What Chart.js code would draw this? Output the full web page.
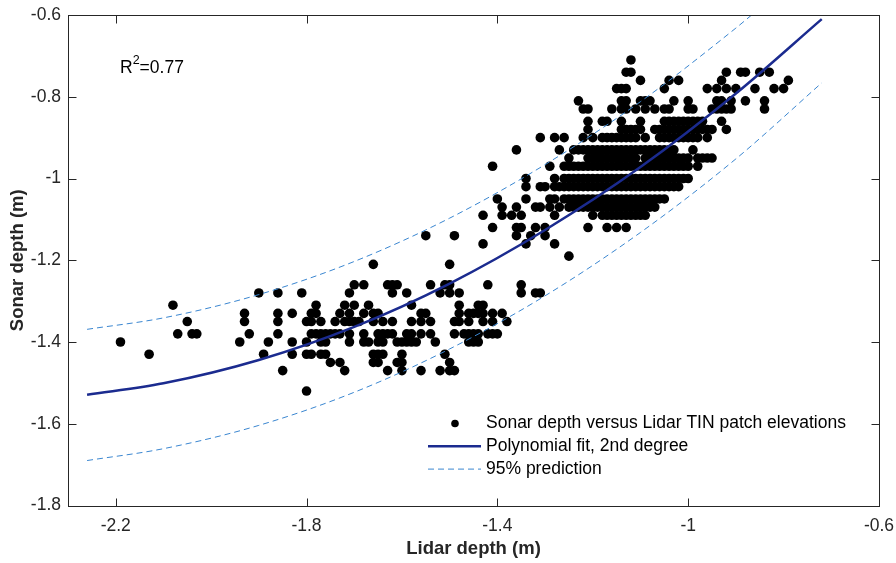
<!DOCTYPE html>
<html>
<head>
<meta charset="utf-8">
<script src="https://cdn.jsdelivr.net/npm/chart.js@4.4.0/dist/chart.umd.min.js"></script>
<style>
  html, body { margin: 0; padding: 0; background: #fff; }
</style>
</head>
<body>
<canvas id="chart" width="896" height="563"></canvas>
<script>
// axis ticks
const xTicks = [-2.2, -1.8, -1.4, -1, -0.6];
const yTicks = [-1.8, -1.6, -1.4, -1.2, -1, -0.8, -0.6];

// measured points, grouped by sonar depth (m); lidar depths per row in cm
const sonarRows = [
  -0.71, -0.74, -0.76, -0.78, -0.81, -0.83, -0.86, -0.88, -0.90, -0.93,
  -0.95, -0.97, -1.00, -1.02, -1.05, -1.07, -1.09, -1.12, -1.14, -1.16,
  -1.19, -1.21, -1.26, -1.28, -1.31, -1.33, -1.35, -1.38, -1.40, -1.43,
  -1.45, -1.47, -1.52
];
const lidarRows = [
  [-112],
  [-113, -112, -92, -89, -88, -85, -83],
  [-110, -104, -102, -93, -79],
  [-115, -114, -113, -105, -96, -94, -92, -90, -86, -82, -80],
  [-123, -114, -113, -110, -109, -108, -103, -100, -94, -93, -91, -88, -84],
  [-122, -121, -116, -114, -113, -111, -109, -107, -105, -104, -100, -99, -95, -94, -93, -92, -91, -84],
  [-121, -118, -117, -114, -110, -105, -104, -103, -102, -101, -100, -99, -98, -97, -93],
  [-121, -114, -113, -112, -111, -110, -107, -106, -105, -104, -103, -102, -101, -100, -99, -98, -97, -96, -95, -92],
  [-131, -128, -126, -122, -120, -118, -117, -116, -115, -114, -113, -112, -111, -109, -106, -105, -104, -103, -102, -101, -100, -99, -98, -96],
  [-136, -127, -124, -123, -122, -121, -120, -119, -118, -117, -116, -115, -114, -113, -112, -111, -110, -109, -108, -107, -106, -105, -104, -103, -99],
  [-125, -121, -120, -119, -118, -117, -116, -115, -114, -113, -112, -111, -109, -108, -107, -106, -105, -104, -103, -102, -101, -100, -98, -97, -96, -95],
  [-141, -129, -126, -125, -124, -123, -122, -121, -120, -119, -118, -117, -116, -115, -114, -113, -112, -111, -110, -109, -108, -107, -106, -105, -104, -103, -102, -101, -100, -98],
  [-134, -128, -126, -125, -124, -123, -122, -121, -120, -119, -118, -117, -116, -115, -114, -113, -112, -111, -110, -109, -108, -107, -106, -105, -104, -103, -102, -101, -100],
  [-134, -131, -130, -128, -127, -126, -125, -124, -123, -122, -121, -120, -119, -118, -117, -116, -115, -114, -113, -112, -111, -110, -109, -108, -107, -106, -105, -104, -103, -102],
  [-140, -134, -129, -128, -126, -125, -124, -123, -122, -121, -120, -119, -118, -117, -116, -115, -114, -113, -112, -111, -110, -109, -108, -107, -106, -105],
  [-139, -136, -132, -131, -129, -127, -125, -124, -123, -122, -121, -120, -119, -118, -117, -116, -115, -114, -113, -112, -111, -110, -109, -108, -107],
  [-143, -139, -137, -135, -128, -120, -118, -117, -116, -115, -114, -113, -112, -111, -110, -109],
  [-141, -136, -135, -132, -130, -121, -117, -115, -113],
  [-155, -149, -136, -133, -130],
  [-143, -134, -128],
  [-125],
  [-166, -150],
  [-170, -168, -163, -162, -161, -154, -151, -150, -142, -135],
  [-190, -186, -181, -171, -162, -159, -152, -150, -148, -135, -132, -131],
  [-208, -178, -172, -170, -167, -158, -148, -144, -143],
  [-193, -186, -183, -179, -178, -173, -171, -168, -166, -165, -156, -155, -148, -146, -145, -144, -143, -141, -139],
  [-205, -193, -186, -180, -179, -177, -174, -172, -171, -170, -169, -166, -164, -162, -158, -156, -154, -149, -148, -146, -143, -141, -138],
  [-207, -204, -203, -192, -186, -179, -178, -177, -176, -175, -174, -173, -171, -168, -165, -164, -163, -162, -159, -158, -156, -154, -149, -147, -146, -145, -144, -142, -141, -140],
  [-219, -194, -188, -183, -180, -177, -176, -171, -168, -167, -165, -164, -161, -160, -159, -158, -157, -153, -146, -145, -144],
  [-213, -189, -183, -180, -179, -177, -176, -166, -165, -164, -160, -151],
  [-175, -173, -166, -165, -161, -160, -150],
  [-185, -172, -163, -160, -156, -152, -150, -149],
  [-180]
];

// 2nd degree polynomial fit and 95% prediction bounds
const fitLidar = [-2.26, -2.1, -1.9, -1.7, -1.5, -1.3, -1.1, -0.9, -0.72];
const fitSonar = [-1.529, -1.501, -1.444, -1.363, -1.257, -1.126, -0.972, -0.792, -0.61];
const upperLidar = [-2.26, -2.1, -1.9, -1.7, -1.5, -1.3, -1.1, -0.9, -0.867];
const upperSonar = [-1.369, -1.341, -1.284, -1.203, -1.097, -0.966, -0.812, -0.632, -0.6];
const lowerLidar = [-2.26, -2.1, -1.9, -1.7, -1.5, -1.3, -1.1, -0.9, -0.72];
const lowerSonar = [-1.690, -1.661, -1.604, -1.523, -1.417, -1.287, -1.132, -0.952, -0.766];

const axisColor = '#262626';
const fitColor = '#1b2b8f';
const boundColor = '#3a86d0';
const fontFamily = '"Liberation Sans", Arial, Helvetica, sans-serif';

Chart.defaults.font.family = fontFamily;
Chart.defaults.color = axisColor;

const points = [];
sonarRows.forEach(function(s, i) {
  lidarRows[i].forEach(function(cm) {
    points.push({x: cm / 100, y: s});
  });
});

const pairs = (xs, ys) => xs.map((v, i) => ({x: v, y: ys[i]}));

// box, inward ticks, R^2 note and the legend
const frame = {
  id: 'frame',
  afterDraw(chart) {
    const {ctx, chartArea: a, scales: {x, y}} = chart;
    const L = Math.round(a.left) + 0.5, R = Math.round(a.right) + 0.5;
    const T = Math.round(a.top) + 0.5, B = Math.round(a.bottom) + 0.5;
    ctx.save();
    ctx.strokeStyle = axisColor;
    ctx.lineWidth = 1;
    ctx.strokeRect(L, T, R - L, B - T);
    ctx.beginPath();
    xTicks.forEach(v => {
      const p = Math.round(x.getPixelForValue(v)) + 0.5;
      ctx.moveTo(p, B); ctx.lineTo(p, B - 8);
      ctx.moveTo(p, T); ctx.lineTo(p, T + 8);
    });
    yTicks.forEach(v => {
      const p = Math.round(y.getPixelForValue(v)) + 0.5;
      ctx.moveTo(L, p); ctx.lineTo(L + 8, p);
      ctx.moveTo(R, p); ctx.lineTo(R - 8, p);
    });
    ctx.stroke();

    // R^2 label
    ctx.fillStyle = '#000';
    ctx.textBaseline = 'alphabetic';
    ctx.textAlign = 'left';
    let tx = x.getPixelForValue(-2.191);
    const ty = y.getPixelForValue(-0.743);
    ctx.font = '17.5px ' + fontFamily;
    ctx.fillText('R', tx, ty);
    tx += ctx.measureText('R').width;
    ctx.font = '12.5px ' + fontFamily;
    ctx.fillText('2', tx, ty - 9);
    tx += ctx.measureText('2').width;
    ctx.font = '17.5px ' + fontFamily;
    ctx.fillText('=0.77', tx, ty);

    // legend
    const lx = a.left + 360, ly = a.top + 408.5, dy = 22.8;
    ctx.font = '17.5px ' + fontFamily;
    ctx.textBaseline = 'middle';
    ctx.beginPath();
    ctx.arc(lx + 27, ly, 3.8, 0, Math.PI * 2);
    ctx.fill();
    ctx.strokeStyle = fitColor;
    ctx.lineWidth = 2.5;
    ctx.beginPath();
    ctx.moveTo(lx, ly + dy); ctx.lineTo(lx + 53, ly + dy);
    ctx.stroke();
    ctx.strokeStyle = boundColor;
    ctx.lineWidth = 1;
    ctx.setLineDash([6, 4]);
    ctx.beginPath();
    ctx.moveTo(lx, ly + 2 * dy); ctx.lineTo(lx + 53, ly + 2 * dy);
    ctx.stroke();
    ctx.setLineDash([]);
    ctx.fillStyle = '#000';
    ctx.fillText('Sonar depth versus Lidar TIN patch elevations', lx + 58, ly);
    ctx.fillText('Polynomial fit, 2nd degree', lx + 58, ly + dy);
    ctx.fillText('95% prediction', lx + 58, ly + 2 * dy);
    ctx.restore();
  }
};

new Chart(document.getElementById('chart'), {
  type: 'scatter',
  data: {
    datasets: [
      {
        type: 'line',
        data: pairs(fitLidar, fitSonar),
        borderColor: fitColor,
        borderWidth: 2.5,
        pointRadius: 0,
        cubicInterpolationMode: 'monotone',
        fill: false
      },
      {
        type: 'line',
        data: pairs(upperLidar, upperSonar),
        borderColor: boundColor,
        borderWidth: 1,
        borderDash: [6, 4],
        pointRadius: 0,
        cubicInterpolationMode: 'monotone',
        fill: false
      },
      {
        type: 'line',
        data: pairs(lowerLidar, lowerSonar),
        borderColor: boundColor,
        borderWidth: 1,
        borderDash: [6, 4],
        pointRadius: 0,
        cubicInterpolationMode: 'monotone',
        fill: false
      },
      {
        data: points,
        backgroundColor: '#000',
        borderWidth: 0,
        pointRadius: 4.8
      }
    ]
  },
  options: {
    responsive: false,
    animation: false,
    events: [],
    layout: { padding: { top: 15, right: 17, left: 0, bottom: 0 } },
    plugins: { legend: { display: false }, tooltip: { enabled: false } },
    scales: {
      x: {
        type: 'linear',
        min: -2.3,
        max: -0.6,
        afterBuildTicks: s => { s.ticks = xTicks.map(v => ({value: v})); },
        afterFit: s => { s.height = 57.5; s.paddingLeft = 0; s.paddingRight = 0; },
        grid: { display: false, drawTicks: false },
        border: { display: false },
        ticks: {
          padding: 10,
          color: axisColor,
          font: { size: 17.5 },
          callback: v => String(v)
        },
        title: {
          display: true,
          text: 'Lidar depth (m)',
          color: axisColor,
          font: { size: 18.5, weight: 'bold' },
          padding: { top: 0, bottom: 3 }
        }
      },
      y: {
        type: 'linear',
        min: -1.8,
        max: -0.6,
        afterBuildTicks: s => { s.ticks = yTicks.map(v => ({value: v})); },
        afterFit: s => { s.width = 68; s.paddingTop = 0; s.paddingBottom = 0; },
        grid: { display: false, drawTicks: false },
        border: { display: false },
        ticks: {
          padding: 7,
          color: axisColor,
          font: { size: 17.5 },
          callback: v => String(v)
        },
        title: {
          display: true,
          text: 'Sonar depth (m)',
          color: axisColor,
          font: { size: 18.5, weight: 'bold' },
          padding: { top: 7, bottom: 0 }
        }
      }
    }
  },
  plugins: [frame]
});
</script>
</body>
</html>
